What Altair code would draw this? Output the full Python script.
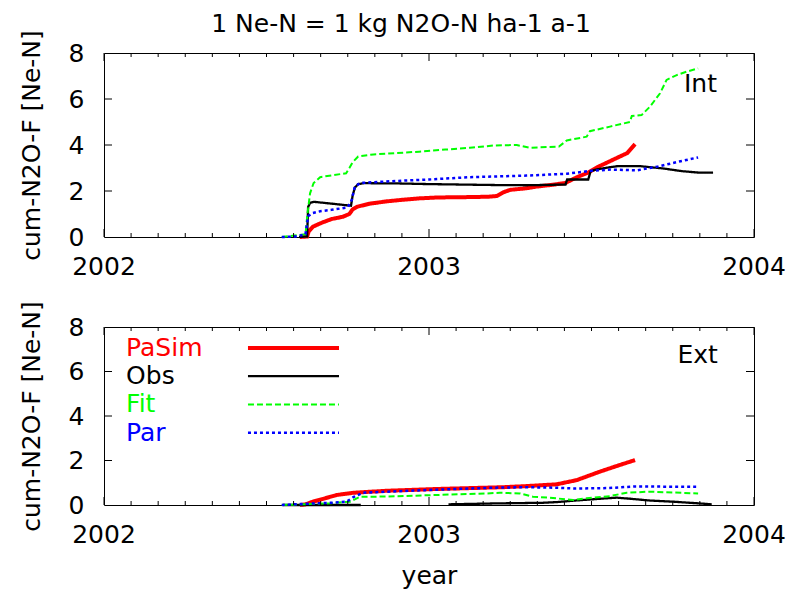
import altair as alt
import pandas as pd

FONT = "DejaVu Sans"
FS = 25

SERIES = ["PaSim", "Obs", "Fit", "Par"]
COLORS = {"PaSim": "#ff0000", "Obs": "#000000", "Fit": "#00ff00", "Par": "#0000ff"}
WIDTHS = {"PaSim": 4, "Obs": 2.3, "Fit": 2, "Par": 2.5}
DASHES = {"PaSim": [1, 0], "Obs": [1, 0], "Fit": [6, 3], "Par": [3, 3]}

YEAR_TICKS = [2002, 2003, 2004]
YEAR_LABELS = ["2002", "2003", "2004"]
MONTH_TICKS = [2002 + m / 12 for m in range(1, 24) if m != 12]
Y_TICKS = [0, 2, 4, 6, 8]
Y_INNER_TICKS = [2, 4, 6]

TITLE = "1 Ne-N = 1 kg N2O-N ha-1 a-1"
Y_TITLE = "cum-N2O-F [Ne-N]"
X_TITLE = "year"

# ---------------- Int panel (top) ----------------
int_pasim_x = [2002.603, 2002.625, 2002.63, 2002.643, 2002.67, 2002.70, 2002.735, 2002.755, 2002.765,
               2002.78, 2002.818, 2002.87, 2002.92, 2002.97, 2003.03, 2003.10, 2003.18, 2003.208,
               2003.23, 2003.25, 2003.30, 2003.33, 2003.38, 2003.42, 2003.455, 2003.49, 2003.52,
               2003.55, 2003.58, 2003.61, 2003.634]
int_pasim_y = [0.0, 0.02, 0.25, 0.45, 0.62, 0.78, 0.88, 1.0, 1.2,
               1.32, 1.45, 1.55, 1.62, 1.68, 1.72, 1.73, 1.75, 1.78,
               1.95, 2.05, 2.12, 2.19, 2.27, 2.35, 2.6, 2.8, 3.05,
               3.25, 3.45, 3.65, 4.04]

int_obs_x = [2002.60, 2002.625, 2002.628, 2002.634, 2002.645, 2002.68, 2002.72, 2002.76, 2002.765,
             2002.772, 2002.782, 2002.80, 2002.90, 2003.0, 2003.1, 2003.2, 2003.3, 2003.42, 2003.425,
             2003.49, 2003.497, 2003.51, 2003.55, 2003.58, 2003.65, 2003.72, 2003.78, 2003.83, 2003.874]
int_obs_y = [0.0, 0.02, 1.3, 1.48, 1.53, 1.48, 1.42, 1.36, 1.8,
             2.15, 2.3, 2.34, 2.33, 2.3, 2.28, 2.26, 2.25, 2.28, 2.5,
             2.5, 2.85, 2.92, 3.02, 3.08, 3.08, 2.98, 2.86, 2.8, 2.8]

int_fit_x = [2002.547, 2002.58, 2002.62, 2002.626, 2002.634, 2002.645, 2002.665, 2002.70, 2002.745,
             2002.755, 2002.765, 2002.782, 2002.82, 2002.90, 2002.97, 2003.05, 2003.126, 2003.20,
             2003.27, 2003.31, 2003.40, 2003.424, 2003.485, 2003.495, 2003.557, 2003.618, 2003.624,
             2003.654, 2003.68, 2003.711, 2003.731, 2003.762, 2003.793, 2003.828]
int_fit_y = [0.0, 0.05, 0.12, 1.0, 1.9, 2.35, 2.6, 2.68, 2.77,
             3.0, 3.25, 3.5, 3.58, 3.65, 3.71, 3.8, 3.88, 3.98,
             4.0, 3.88, 3.93, 4.2, 4.36, 4.6, 4.8, 5.0, 5.26,
             5.3, 5.67, 6.25, 6.83, 7.04, 7.19, 7.33]

int_par_x = [2002.547, 2002.59, 2002.62, 2002.628, 2002.64, 2002.665, 2002.70, 2002.75, 2002.762,
             2002.772, 2002.79, 2002.85, 2002.92, 2003.0, 2003.126, 2003.30, 2003.424, 2003.50,
             2003.56, 2003.64, 2003.70, 2003.77, 2003.828]
int_par_y = [0.0, 0.02, 0.12, 0.9, 1.03, 1.12, 1.18, 1.29, 1.6,
             2.2, 2.35, 2.4, 2.45, 2.5, 2.6, 2.67, 2.75, 2.88,
             2.93, 2.9, 3.05, 3.28, 3.46]

# ---------------- Ext panel (bottom) ----------------
ext_pasim_x = [2002.603, 2002.62, 2002.643, 2002.68, 2002.716, 2002.767, 2002.87, 2003.024, 2003.228,
               2003.30, 2003.393, 2003.455, 2003.526, 2003.577, 2003.634]
ext_pasim_y = [0.0, 0.03, 0.15, 0.3, 0.45, 0.55, 0.64, 0.72, 0.8,
               0.85, 0.93, 1.12, 1.5, 1.75, 2.02]

ext_obs_x = [2002.55, 2002.79,
             2003.06, 2003.20, 2003.35, 2003.393, 2003.45, 2003.526, 2003.577, 2003.62, 2003.68,
             2003.75, 2003.834, 2003.87]
ext_obs_y = [0.0, 0.0,
             0.03, 0.07, 0.1, 0.13, 0.2, 0.28, 0.33, 0.28, 0.2,
             0.15, 0.07, 0.03]
ext_obs_seg = [1, 1,
               2, 2, 2, 2, 2, 2, 2, 2, 2,
               2, 2, 2]

ext_fit_x = [2002.547, 2002.70, 2002.757, 2002.788, 2002.87, 2003.024, 2003.178, 2003.218, 2003.28,
             2003.32, 2003.372, 2003.443, 2003.485, 2003.557, 2003.608, 2003.68, 2003.828]
ext_fit_y = [0.0, 0.08, 0.15, 0.37, 0.38, 0.45, 0.52, 0.55, 0.52,
             0.37, 0.33, 0.22, 0.3, 0.4, 0.55, 0.6, 0.52]

ext_par_x = [2002.547, 2002.612, 2002.70, 2002.747, 2002.767, 2002.797, 2002.87, 2003.024, 2003.20,
             2003.30, 2003.38, 2003.45, 2003.55, 2003.63, 2003.828]
ext_par_y = [0.0, 0.05, 0.1, 0.15, 0.35, 0.55, 0.6, 0.69, 0.78,
             0.8, 0.78, 0.74, 0.76, 0.83, 0.82]

# legend rows
LEGEND_ROWS = [0, 1, 2, 3]


def series_df(xs, ys, seg=None):
    if seg is None:
        seg = [1] * len(xs)
    return pd.DataFrame({"year": xs, "value": ys, "seg": seg})


W = 650


def panel(data, tag, tag_x, tag_y, height, show_xtitle, with_legend, title=None):
    xscale = alt.Scale(domain=[2002, 2004], nice=False, zero=False)
    yscale = alt.Scale(domain=[0, 8], nice=False, zero=False)
    common = dict(labelOverlap=False, labelFlush=False,
                  labelFont=FONT, labelFontSize=FS, labelColor="black",
                  titleFont=FONT, titleFontSize=FS, titleColor="black", titleFontWeight="normal",
                  domain=False, ticks=False, grid=False)
    xaxis = alt.Axis(values=YEAR_TICKS, labels=False,
                     title=X_TITLE if show_xtitle else "",
                     titlePadding=58, **common)
    yaxis = alt.Axis(values=Y_TICKS, title=Y_TITLE, labelPadding=20, titlePadding=24, **common)
    X = alt.X("year:Q", scale=xscale, axis=xaxis)
    Y = alt.Y("value:Q", scale=yscale, axis=yaxis)

    layers = []
    for name in SERIES:
        df = data[name]
        layers.append(
            alt.Chart(df).mark_line(color=COLORS[name], strokeWidth=WIDTHS[name],
                                    strokeDash=DASHES[name], interpolate="linear")
            .encode(x=X, y=Y, detail="seg:N")
        )

    minor = pd.DataFrame({"year": MONTH_TICKS})
    major = pd.DataFrame({"year": YEAR_TICKS, "label": YEAR_LABELS})
    yt = pd.DataFrame({"value": Y_INNER_TICKS})
    tick = dict(color="black", strokeWidth=1)
    layers += [
        alt.Chart(minor).mark_rule(**tick).encode(x=X, y=alt.value(height), y2=alt.value(height - 4)),
        alt.Chart(minor).mark_rule(**tick).encode(x=X, y=alt.value(0), y2=alt.value(4)),
        alt.Chart(major).mark_rule(**tick).encode(x=X, y=alt.value(height), y2=alt.value(height - 8)),
        alt.Chart(major).mark_rule(**tick).encode(x=X, y=alt.value(0), y2=alt.value(8)),
        alt.Chart(yt).mark_rule(**tick).encode(y=Y, x=alt.value(0), x2=alt.value(8)),
        alt.Chart(yt).mark_rule(**tick).encode(y=Y, x=alt.value(W), x2=alt.value(W - 8)),
        # year tick labels
        alt.Chart(major).mark_text(align="center", baseline="middle", font=FONT, fontSize=FS,
                                   color="black")
        .encode(x=X, y=alt.value(height + 30), text="label:N"),
    ]

    tagdf = pd.DataFrame({"label": [tag], "year": [tag_x], "value": [tag_y]})
    layers.append(
        alt.Chart(tagdf).mark_text(align="right", baseline="alphabetic", font=FONT, fontSize=FS,
                                   color="black")
        .encode(x=X, y=Y, text="label:N")
    )

    if with_legend:
        leg = pd.DataFrame({"series": SERIES, "row": LEGEND_ROWS})
        for name in SERIES:
            one = leg[leg.series == name]
            base = alt.Chart(one).transform_calculate(
                value="7.06 - datum.row * 1.27",
                year="2002.068",
                x_a="2002.443",
                x_b="2002.723",
            )
            layers.append(
                base.mark_text(align="left", baseline="middle", font=FONT, fontSize=FS,
                               color=COLORS[name])
                .encode(x=X, y=Y, text="series:N")
            )
            layers.append(
                base.mark_rule(color=COLORS[name], strokeWidth=WIDTHS[name], strokeDash=DASHES[name])
                .encode(x=alt.X("x_a:Q", scale=xscale, axis=xaxis), x2="x_b:Q", y=Y)
            )

    props = dict(width=W, height=height)
    if title is not None:
        props["title"] = alt.TitleParams(title, font=FONT, fontSize=FS, fontWeight="normal",
                                         anchor="middle", frame="group", dx=-28, offset=-7,
                                         color="black")
    return alt.layer(*layers).properties(**props)


int_data = {
    "PaSim": series_df(int_pasim_x, int_pasim_y),
    "Obs": series_df(int_obs_x, int_obs_y),
    "Fit": series_df(int_fit_x, int_fit_y),
    "Par": series_df(int_par_x, int_par_y),
}
ext_data = {
    "PaSim": series_df(ext_pasim_x, ext_pasim_y),
    "Obs": series_df(ext_obs_x, ext_obs_y, ext_obs_seg),
    "Fit": series_df(ext_fit_x, ext_fit_y),
    "Par": series_df(ext_par_x, ext_par_y),
}

top = panel(int_data, "Int", 2003.886, 6.32, 184, False, False, title=TITLE)
bottom = panel(ext_data, "Ext", 2003.889, 6.38, 178, True, True)

chart = alt.vconcat(top, bottom, spacing=90, bounds="flush").properties(
    padding={"left": 18, "top": 11, "right": 0, "bottom": 0},
    background="white",
).configure_view(stroke="black", strokeWidth=1)

chart.save("out.html", embed_options={"renderer": "svg", "actions": False})
